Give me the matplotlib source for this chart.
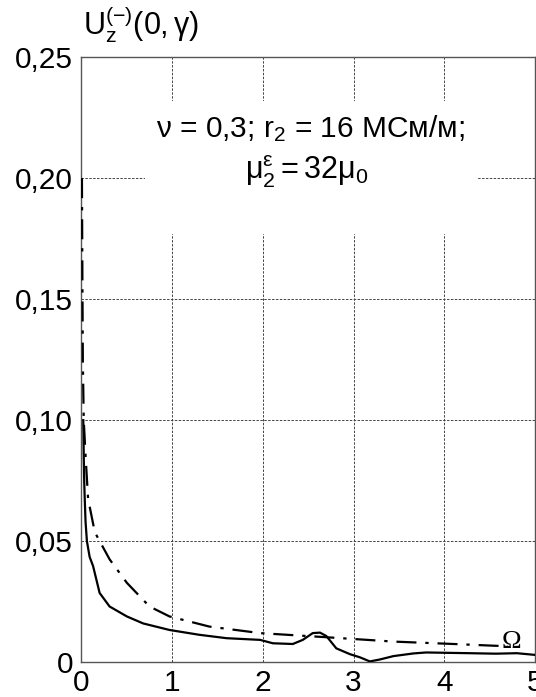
import numpy as np
import matplotlib
matplotlib.use("Agg")
import matplotlib.pyplot as plt
from matplotlib.patches import Rectangle
from matplotlib.ticker import FuncFormatter

plt.rcParams["font.family"] = "Liberation Sans"
plt.rcParams["mathtext.fontset"] = "custom"
plt.rcParams["mathtext.rm"] = "Liberation Sans"
plt.rcParams["mathtext.it"] = "Liberation Sans:italic"
plt.rcParams["mathtext.bf"] = "Liberation Sans:bold"

# solid curve
x_solid = [0.02, 0.025, 0.03, 0.036, 0.045, 0.06, 0.09, 0.128, 0.165, 0.20, 0.31, 0.50, 0.68,
           0.97, 1.30, 1.60, 1.97, 2.11, 2.33, 2.44, 2.55, 2.63, 2.70, 2.81, 2.96, 3.07,
           3.18, 3.29, 3.44, 3.66, 3.80, 4.28, 4.57, 4.80, 5.00]
y_solid = [0.100, 0.085, 0.075, 0.0675, 0.058, 0.050, 0.0435, 0.0397, 0.034, 0.0286, 0.023,
           0.0189, 0.016, 0.0133, 0.0113, 0.0099, 0.0092, 0.0078, 0.0075, 0.0092, 0.012,
           0.0122, 0.0108, 0.0057, 0.0033, 0.002, 0.0003, 0.0011, 0.0025, 0.0036, 0.004,
           0.0037, 0.0035, 0.0037, 0.0030]

# dash-dot curve
x_dd = [0.005, 0.01, 0.015, 0.025, 0.047, 0.073, 0.147, 0.31, 0.50, 0.75, 0.97, 1.41, 1.97,
        2.70, 3.44, 4.17, 4.54, 4.70]
y_dd = [0.200, 0.160, 0.125, 0.100, 0.084, 0.0675, 0.0537, 0.0425, 0.0328, 0.023, 0.0189,
        0.0147, 0.012, 0.0103, 0.0085, 0.0074, 0.0068, 0.0066]

x_ticks = [0, 1, 2, 3, 4, 5]
y_ticks = [0, 0.05, 0.10, 0.15, 0.20, 0.25]

fig = plt.figure(figsize=(5.36, 6.97), dpi=100)
ax = fig.add_axes([0.152, 0.050, 0.846, 0.868])

ax.plot(x_solid, y_solid, color="black", lw=1.6, zorder=4)
ax.plot(x_dd, y_dd, color="black", lw=1.6, zorder=4, dashes=(9, 4, 1.5, 4))

ax.set_xlim(0, 5)
ax.set_ylim(0, 0.25)
ax.set_xticks(x_ticks)
ax.set_yticks(y_ticks)
ax.yaxis.set_major_formatter(FuncFormatter(lambda v, p: "0" if v == 0 else f"{v:.2f}".replace(".", ",")))
ax.tick_params(length=0, labelsize=21.5)
ax.tick_params(axis="x", pad=5)
ax.tick_params(axis="y", pad=6)
ax.grid(True, color="#444444", lw=0.7, ls=(0, (2.5, 1.5)), zorder=1)
ax.set_axisbelow(True)
for s in ax.spines.values():
    s.set_color("#555555")
    s.set_linewidth(1.0)

# white box behind the annotation
ax.add_patch(Rectangle((0.70, 0.177), 3.67, 0.055, facecolor="white", edgecolor="none", zorder=2))
ax.text(2.52, 0.2205, r"ν = 0,3; r$_2$ = 16 МСм/м;", fontsize=21.5, ha="center", va="center", zorder=3)
ax.text(2.48, 0.2025, r"$\mathrm{\mu_2^{\varepsilon}=32\mu_0}$", fontsize=22, ha="center", va="center", zorder=3)

ax.text(4.74, 0.0083, "Ω", family="Liberation Serif", fontsize=19, ha="center", va="center", zorder=5)

fig.text(0.155, 0.965, r"$\mathrm{U_z^{(-)}(0,\gamma)}$", fontsize=22, ha="left", va="center")

fig.savefig("out.png", dpi=100)
